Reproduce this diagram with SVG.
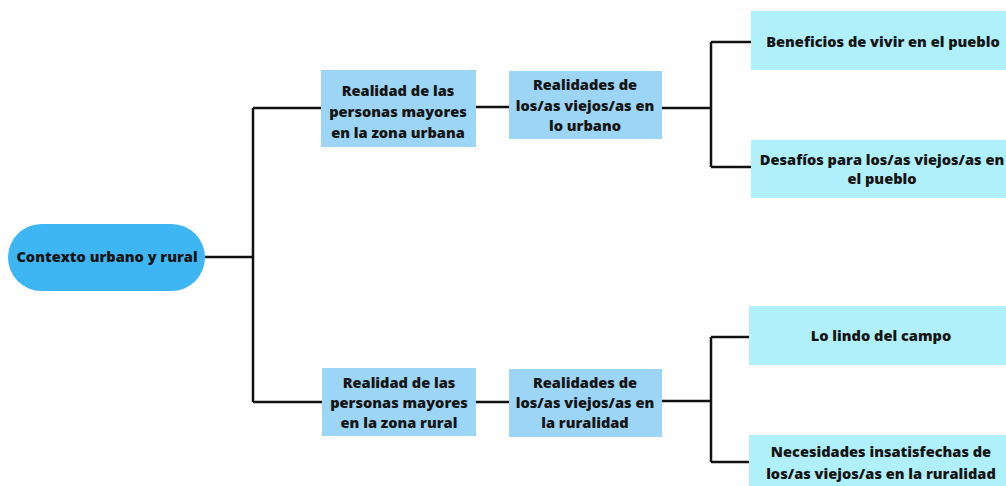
<svg xmlns="http://www.w3.org/2000/svg" width="1006" height="486" viewBox="0 0 1006 486">
<style>
.t{font-family:"Open Sans","Noto Sans","Liberation Sans",sans-serif;font-weight:800;font-size:14.6px;fill:#141414;text-anchor:middle}
.root{fill:#3fb6f4}
.mid{fill:#9cd5f6}
.leaf{fill:#b0f0fb}
.c{fill:none;stroke:#111;stroke-width:2.5}
</style>
<rect width="1006" height="486" fill="#ffffff"/>
<g id="connectors">
<path class="c" d="M205 257H253M253 108V402M253 108H321M253 402H322"/>
<path class="c" d="M476 107H509M476 402H509"/>
<path class="c" d="M662 108H711M711 42V167M711 42H751M711 167H751"/>
<path class="c" d="M662 401H711M711 337V462M711 337H749M711 462H749"/>
</g>
<g id="root">
<rect class="root" x="8" y="224" width="197" height="67" rx="33.5"/>
<text class="t" x="107" y="262">Contexto urbano y rural</text>
</g>
<g id="a1">
<rect class="mid" x="321" y="70" width="155" height="77"/>
<text class="t" x="398" y="96">Realidad de las</text>
<text class="t" x="398" y="117">personas mayores</text>
<text class="t" x="398" y="138">en la zona urbana</text>
</g>
<g id="a2">
<rect class="mid" x="509" y="71" width="153" height="68"/>
<text class="t" x="585" y="90">Realidades de</text>
<text class="t" x="585" y="111">los/as viejos/as en</text>
<text class="t" x="585" y="131">lo urbano</text>
</g>
<g id="b1">
<rect class="leaf" x="751" y="11" width="265" height="59"/>
<text class="t" x="883" y="47">Beneficios de vivir en el pueblo</text>
</g>
<g id="b2">
<rect class="leaf" x="751" y="140" width="265" height="58"/>
<text class="t" x="882" y="165">Desafíos para los/as viejos/as en</text>
<text class="t" x="882" y="184">el pueblo</text>
</g>
<g id="c1">
<rect class="mid" x="322" y="368" width="154" height="68"/>
<text class="t" x="399" y="388">Realidad de las</text>
<text class="t" x="399" y="408">personas mayores</text>
<text class="t" x="399" y="428">en la zona rural</text>
</g>
<g id="c2">
<rect class="mid" x="509" y="369" width="153" height="68"/>
<text class="t" x="585" y="388">Realidades de</text>
<text class="t" x="585" y="408">los/as viejos/as en</text>
<text class="t" x="585" y="428">la ruralidad</text>
</g>
<g id="d1">
<rect class="leaf" x="749" y="306" width="267" height="59"/>
<text class="t" x="881" y="341">Lo lindo del campo</text>
</g>
<g id="d2">
<rect class="leaf" x="749" y="435" width="267" height="60"/>
<text class="t" x="881" y="457">Necesidades insatisfechas de</text>
<text class="t" x="881" y="479">los/as viejos/as en la ruralidad</text>
</g>
</svg>
